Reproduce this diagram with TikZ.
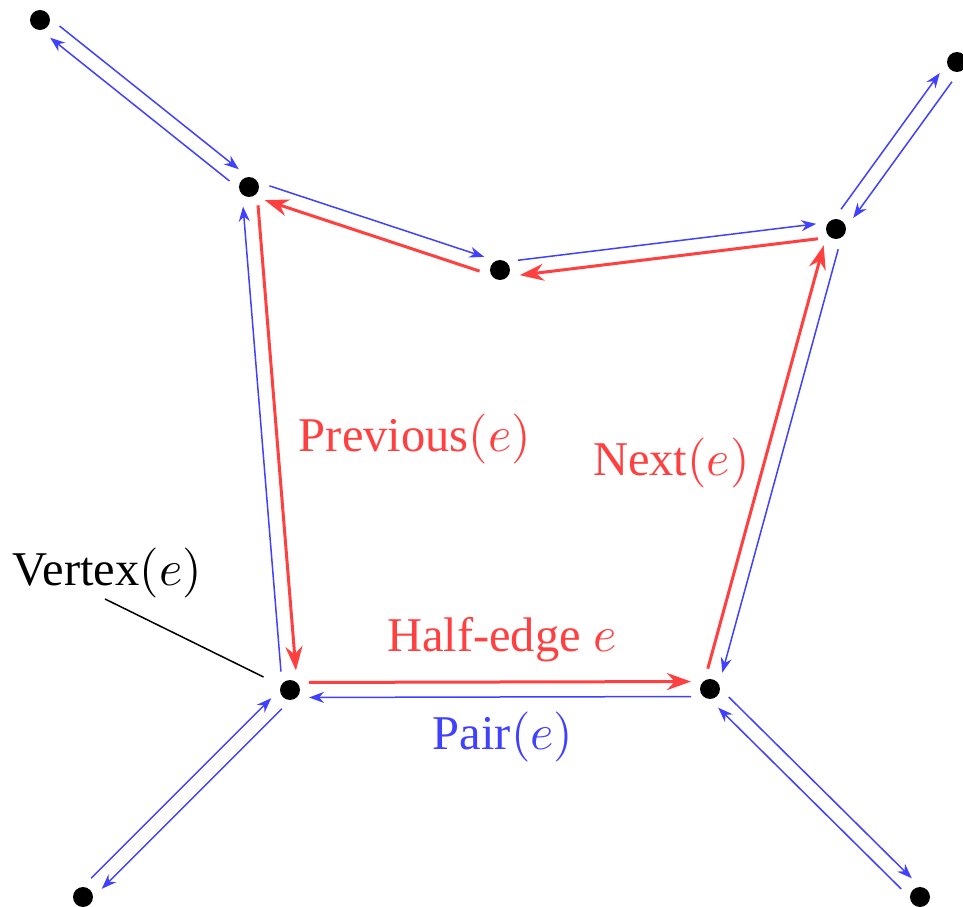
\documentclass[tikz,border=0pt]{standalone}
\usepackage{fontspec}
\setmainfont{Liberation Serif}
\usetikzlibrary{calc,arrows.meta}
\tikzset{
  vtx/.style={circle,fill=black,inner sep=0pt,minimum size=4pt},
  twin/.style={blue!75, line width=0.3pt, -{Stealth[length=3pt,width=2.2pt]}},
  face/.style={red!75, line width=0.6pt, -{Stealth[length=4.8pt,width=3.4pt]}},
  facelabel/.style={red!75, anchor=base west, inner sep=0pt, font=\fontsize{9.7pt}{12pt}\selectfont},
  twinlabel/.style={blue!75, anchor=base west, inner sep=0pt, font=\fontsize{9.7pt}{12pt}\selectfont},
  plainlabel/.style={black, anchor=base west, inner sep=0pt, font=\fontsize{9.7pt}{12pt}\selectfont},
}
\newcommand\halfedge[3]{\draw[#1] ($(#2)!3.8pt!(#3)!1.5pt!90:(#3)$) -- ($(#3)!3.8pt!(#2)!1.5pt!-90:(#2)$);}
\begin{document}
\begin{tikzpicture}[x=0.2pt,y=-0.2pt]
\useasboundingbox (0,0) rectangle (963,907);
% vertices
\node[vtx] (A) at (40,20) {};
\node[vtx] (B) at (249,187) {};
\node[vtx] (C) at (500,270) {};
\node[vtx] (D) at (836,229) {};
\node[vtx] (E) at (957,62) {};
\node[vtx] (F) at (290,690) {};
\node[vtx] (G) at (710,689) {};
\node[vtx] (H) at (83,897) {};
\node[vtx] (I) at (920,897) {};
% face half-edges
\halfedge{face}{F}{G}
\halfedge{face}{G}{D}
\halfedge{face}{D}{C}
\halfedge{face}{C}{B}
\halfedge{face}{B}{F}
% other half-edges
\halfedge{twin}{G}{F}
\halfedge{twin}{D}{G}
\halfedge{twin}{C}{D}
\halfedge{twin}{B}{C}
\halfedge{twin}{F}{B}
\halfedge{twin}{A}{B}
\halfedge{twin}{B}{A}
\halfedge{twin}{D}{E}
\halfedge{twin}{E}{D}
\halfedge{twin}{F}{H}
\halfedge{twin}{H}{F}
\halfedge{twin}{G}{I}
\halfedge{twin}{I}{G}
% labels
\node[facelabel] (prev) at (298,452) {Previous$(e)$};
\node[facelabel] (next) at (592,475) {Next$(e)$};
\node[facelabel] (half) at (386,652) {Half-edge $e$};
\node[twinlabel] (pair) at (432,750) {Pair$(e)$};
\node[plainlabel] (vert) at (12,585) {Vertex$(e)$};
\coordinate (vs) at (105,599);
\draw[black, line width=0.3pt, shorten >=3.7pt] (vs) -- (F);
\end{tikzpicture}
\end{document}
